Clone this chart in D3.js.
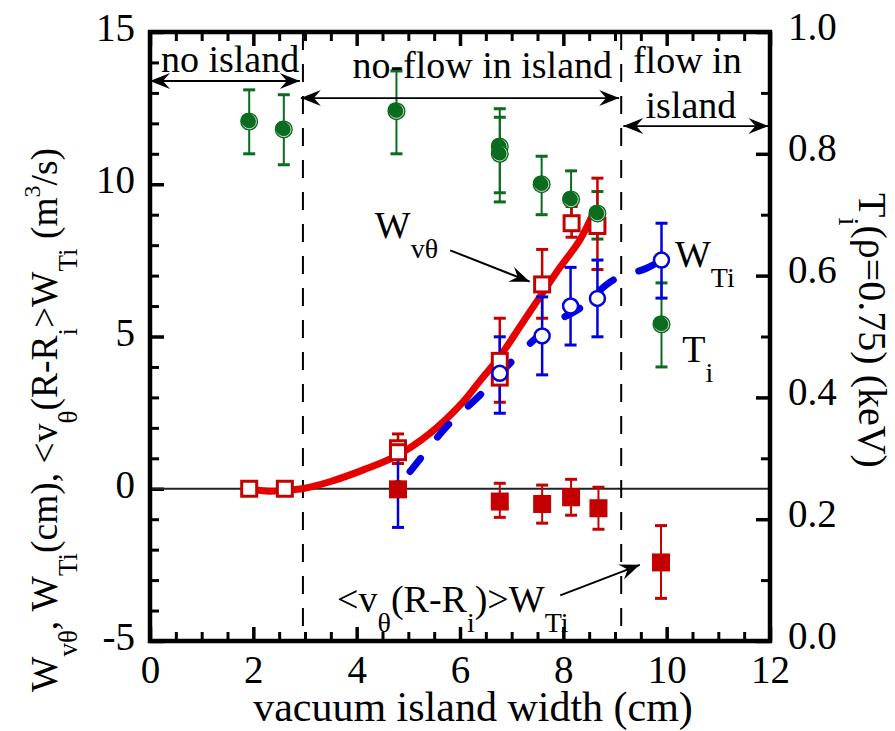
<!DOCTYPE html>
<html>
<head>
<meta charset="utf-8">
<script src="https://cdn.jsdelivr.net/npm/d3@7"></script>
<style>
  html, body { margin: 0; padding: 0; background: #fff; }
  svg { display: block; font-family: "Liberation Serif", "Times New Roman", serif; }
</style>
</head>
<body>
<div id="chart"></div>
<script>
// ---- data ----
// tick labels
const xTicks = [0, 2, 4, 6, 8, 10, 12];
const yLeftTicks = [-5, 0, 5, 10, 15];
const yRightTicks = [0.0, 0.2, 0.4, 0.6, 0.8, 1.0];

// T_i(rho=0.75) in keV (right axis), green dots
const tiX  = [1.92, 2.59, 4.77, 6.77, 6.77, 7.58, 8.15, 8.66, 9.90];
const tiY  = [0.853, 0.840, 0.870, 0.812, 0.800, 0.750, 0.725, 0.702, 0.520];
const tiLo = [0.800, 0.782, 0.800, 0.736, 0.721, 0.700, 0.680, 0.660, 0.450];
const tiHi = [0.905, 0.897, 0.936, 0.874, 0.860, 0.796, 0.772, 0.738, 0.588];

// W_vθ (cm), open red squares
const wvX  = [1.92, 2.61, 4.80, 4.80, 6.77, 6.77, 7.59, 8.16, 8.66];
const wvY  = [0.00, 0.00, 1.33, 1.20, 4.20, 3.65, 6.71, 8.72, 8.63];
const wvLo = [null, null, 0.83, null, 2.84, null, 5.60, 8.26, 7.20];
const wvHi = [null, null, 1.80, null, 5.60, null, 7.86, 9.27, 10.20];

// W_Ti (cm), open blue circles
const wtX  = [4.80, 6.77, 7.59, 8.14, 8.66, 9.90];
const wtY  = [0.00, 3.79, 5.02, 6.00, 6.25, 7.51];
const wtLo = [-1.27, 2.48, 3.74, 4.72, 4.99, 6.26];
const wtHi = [1.20, 4.99, 6.30, 7.27, 7.51, 8.72];

// <v_θ(R-R_i)>W_Ti (m^3/s), filled red squares
const fxX  = [4.80, 6.77, 7.59, 8.15, 8.68, 9.89];
const fxY  = [-0.02, -0.42, -0.50, -0.28, -0.64, -2.42];
const fxLo = [null, -0.94, -1.13, -0.87, -1.33, -3.60];
const fxHi = [null, 0.18, 0.12, 0.31, 0.05, -1.21];

// fit curves
const wvFitX = [1.92, 2.30, 2.61, 2.97, 3.48, 4.13, 4.77, 5.42, 6.06, 6.39, 6.77, 7.16, 7.55, 7.94, 8.32, 8.58];
const wvFitY = [0.00, -0.08, -0.05, 0.01, 0.23, 0.62, 1.08, 1.82, 2.85, 3.55, 4.34, 5.32, 6.31, 7.28, 8.17, 9.05];
const wtFitX = [4.80, 5.06, 5.74, 6.39, 7.16, 7.81, 8.32, 8.97, 9.61, 9.90];
const wtFitY = [0.08, 0.62, 2.04, 3.08, 4.45, 5.43, 5.93, 6.86, 7.24, 7.51];

// region boundaries (vacuum island width, cm)
const boundaries = [2.96, 9.12];

// ---- layout ----
const W = 895, H = 731;
const margin = { top: 32, right: 125, bottom: 90, left: 150 };
const width = W - margin.left - margin.right;   // 620
const height = 641 - margin.top;                 // 609

const RED_LINE = "#e60000", RED = "#c40000", BLUE = "#0000e0", GREEN = "#0b6b1e";
const FONT = "'Liberation Serif', 'Times New Roman', serif";

const svg = d3.select("#chart").append("svg")
    .attr("width", W)
    .attr("height", H);

const defs = svg.append("defs");
defs.append("marker")
    .attr("id", "arrow")
    .attr("viewBox", "-22 -10 24 20")
    .attr("markerWidth", 24).attr("markerHeight", 20)
    .attr("markerUnits", "userSpaceOnUse")
    .attr("refX", 0).attr("refY", 0)
    .attr("orient", "auto-start-reverse")
    .append("path")
    .attr("d", "M0,0 L-20,-8 L-13,0 L-20,8 Z")
    .attr("fill", "#000");

const g = svg.append("g").attr("transform", `translate(${margin.left},${margin.top})`);

const x = d3.scaleLinear().domain([0, 12]).range([0, width]);
const yL = d3.scaleLinear().domain([-5, 15]).range([height, 0]);
const yR = d3.scaleLinear().domain([0, 1]).range([height, 0]);

// ---- axes (ticks inward, frame drawn separately) ----
function styleAxis(sel, tickW) {
    sel.select(".domain").remove();
    sel.selectAll(".tick line").attr("stroke", "#000").attr("stroke-width", tickW);
    sel.selectAll(".tick text")
        .attr("fill", "#000")
        .attr("font-size", 39)
        .attr("font-family", FONT);
}

const xMinor = d3.range(0.5, 12, 0.5).filter(v => v % 2 !== 0);
const yLMinor = d3.range(-4, 15, 1).filter(v => v % 5 !== 0);
const yRMinor = [0.1, 0.3, 0.5, 0.7, 0.9];

// bottom
g.append("g").attr("transform", `translate(0,${height})`)
    .call(d3.axisBottom(x).tickValues(xMinor).tickSizeInner(-9).tickSizeOuter(0).tickFormat(""))
    .call(s => styleAxis(s, 3));
g.append("g").attr("transform", `translate(0,${height})`)
    .call(d3.axisBottom(x).tickValues(xTicks).tickSizeInner(-14).tickSizeOuter(0).tickPadding(14).tickFormat(d => String(d)))
    .call(s => styleAxis(s, 3.5));
// top (mirror, no labels)
g.append("g")
    .call(d3.axisTop(x).tickValues(xMinor).tickSizeInner(-9).tickSizeOuter(0).tickFormat(""))
    .call(s => styleAxis(s, 3));
g.append("g")
    .call(d3.axisTop(x).tickValues(xTicks).tickSizeInner(-14).tickSizeOuter(0).tickFormat(""))
    .call(s => styleAxis(s, 3.5));
// left
g.append("g")
    .call(d3.axisLeft(yL).tickValues(yLMinor).tickSizeInner(-9).tickSizeOuter(0).tickFormat(""))
    .call(s => styleAxis(s, 3));
g.append("g")
    .call(d3.axisLeft(yL).tickValues(yLeftTicks).tickSizeInner(-14).tickSizeOuter(0).tickPadding(15).tickFormat(d => String(d)))
    .call(s => styleAxis(s, 3.5))
    .call(s => s.selectAll(".tick text").attr("dy", "0.22em"));
// right
g.append("g").attr("transform", `translate(${width},0)`)
    .call(d3.axisRight(yR).tickValues(yRMinor).tickSizeInner(-9).tickSizeOuter(0).tickFormat(""))
    .call(s => styleAxis(s, 3));
g.append("g").attr("transform", `translate(${width},0)`)
    .call(d3.axisRight(yR).tickValues(yRightTicks).tickSizeInner(-14).tickSizeOuter(0).tickPadding(18).tickFormat(d3.format(".1f")))
    .call(s => styleAxis(s, 3.5))
    .call(s => s.selectAll(".tick text").attr("dy", "0.18em"));

// ---- reference lines ----
g.append("line")
    .attr("x1", 0).attr("x2", width)
    .attr("y1", yL(0)).attr("y2", yL(0))
    .attr("stroke", "#222").attr("stroke-width", 2);

g.selectAll(".boundary").data(boundaries).join("line")
    .attr("class", "boundary")
    .attr("x1", d => x(d)).attr("x2", d => x(d))
    .attr("y1", 0).attr("y2", height)
    .attr("stroke", "#000").attr("stroke-width", 2)
    .attr("stroke-dasharray", "18,14");

// ---- fit curves ----
const lineGen = d3.line().curve(d3.curveCatmullRom.alpha(0.5));
g.append("path")
    .attr("d", lineGen(wvFitX.map((v, i) => [x(v), yL(wvFitY[i])])))
    .attr("fill", "none").attr("stroke", RED_LINE).attr("stroke-width", 7)
    .attr("stroke-linejoin", "round").attr("stroke-linecap", "round");
g.append("path")
    .attr("d", lineGen(wtFitX.map((v, i) => [x(v), yL(wtFitY[i])])))
    .attr("fill", "none").attr("stroke", BLUE).attr("stroke-width", 7)
    .attr("stroke-linecap", "round")
    .attr("stroke-dasharray", "17,27").attr("stroke-dashoffset", 25);

// ---- error bars ----
function errBars(xs, lo, hi, yScale, color, lw) {
    const rows = xs.map((v, i) => ({ x: v, lo: lo[i], hi: hi[i] })).filter(d => d.lo != null);
    const eg = g.append("g").attr("stroke", color);
    eg.selectAll("line.v").data(rows).join("line")
        .attr("class", "v")
        .attr("x1", d => x(d.x)).attr("x2", d => x(d.x))
        .attr("y1", d => yScale(d.lo)).attr("y2", d => yScale(d.hi))
        .attr("stroke-width", lw);
    ["lo", "hi"].forEach(k => {
        eg.selectAll("line.c" + k).data(rows).join("line")
            .attr("class", "c" + k)
            .attr("x1", d => x(d.x) - 6).attr("x2", d => x(d.x) + 6)
            .attr("y1", d => yScale(d[k])).attr("y2", d => yScale(d[k]))
            .attr("stroke-width", 3);
    });
}
errBars(tiX, tiLo, tiHi, yR, GREEN, 2);
errBars(wvX, wvLo, wvHi, yL, RED, 2.5);
errBars(wtX, wtLo, wtHi, yL, BLUE, 2.5);
errBars(fxX, fxLo, fxHi, yL, RED, 2);

// ---- markers ----
g.selectAll(".wv").data(wvX).join("rect")
    .attr("class", "wv")
    .attr("x", d => x(d) - 7.5)
    .attr("y", (d, i) => yL(wvY[i]) - 7.5)
    .attr("width", 15).attr("height", 15)
    .attr("fill", "#fff").attr("stroke", RED).attr("stroke-width", 3);

g.selectAll(".wt").data(wtX).join("circle")
    .attr("class", "wt")
    .attr("cx", d => x(d)).attr("cy", (d, i) => yL(wtY[i]))
    .attr("r", 7.5)
    .attr("fill", "#fff").attr("stroke", BLUE).attr("stroke-width", 2.5);

const tiG = g.selectAll(".ti").data(tiX).join("g")
    .attr("class", "ti")
    .attr("transform", (d, i) => `translate(${x(d)},${yR(tiY[i])})`);
tiG.append("circle").attr("r", 9).attr("fill", GREEN);
tiG.append("circle").attr("r", 7.2).attr("fill", "none")
    .attr("stroke", "#fff").attr("stroke-opacity", 0.75).attr("stroke-width", 1);
tiG.append("circle").attr("cx", -1.6).attr("cy", -1.6).attr("r", 7).attr("fill", GREEN);

g.selectAll(".fx").data(fxX).join("rect")
    .attr("class", "fx")
    .attr("x", d => x(d) - 9)
    .attr("y", (d, i) => yL(fxY[i]) - 9)
    .attr("width", 18).attr("height", 18)
    .attr("fill", RED);

// ---- frame ----
g.append("rect")
    .attr("width", width).attr("height", height)
    .attr("fill", "none").attr("stroke", "#000").attr("stroke-width", 4.5);

// ---- text helpers ----
function rich(parent, parts, size, subSize, supSize) {
    const t = parent.append("text").attr("font-size", size).attr("font-family", FONT).attr("fill", "#000");
    let shift = 0;
    parts.forEach(p => {
        const target = p.sub ? 20 : p.sup ? -17 : 0;
        t.append("tspan")
            .attr("dy", target - shift)
            .attr("font-size", p.sub ? subSize : p.sup ? supSize : size)
            .text(p.t);
        shift = target;
    });
    return t;
}

// ---- region labels and arrows ----
const regionText = [
    { t: "no island", x: 1.55, y: 13.68 },
    { t: "no-flow in island", x: 6.43, y: 13.49 },
    { t: "flow in", x: 10.40, y: 13.65 },
    { t: "island", x: 10.47, y: 12.18 }
];
g.selectAll(".region").data(regionText).join("text")
    .attr("class", "region")
    .attr("x", d => x(d.x)).attr("y", d => yL(d.y))
    .attr("text-anchor", "middle")
    .attr("font-size", 38).attr("font-family", FONT)
    .text(d => d.t);

const regionArrows = [
    { x0: 0.0, x1: 2.90, y: 13.39 },
    { x0: 2.92, x1: 9.08, y: 12.83 },
    { x0: 9.16, x1: 11.97, y: 11.91 }
];
g.selectAll(".rarrow").data(regionArrows).join("line")
    .attr("class", "rarrow")
    .attr("x1", d => x(d.x0)).attr("x2", d => x(d.x1))
    .attr("y1", d => yL(d.y)).attr("y2", d => yL(d.y))
    .attr("stroke", "#000").attr("stroke-width", 1.8)
    .attr("marker-start", "url(#arrow)").attr("marker-end", "url(#arrow)");

// ---- series annotations ----
const annArrows = [
    { x0: 5.81, y0: 7.83, x1: 7.35, y1: 6.80 },
    { x0: 7.94, y0: -3.50, x1: 9.48, y1: -2.50 }
];
g.selectAll(".aarrow").data(annArrows).join("line")
    .attr("class", "aarrow")
    .attr("x1", d => x(d.x0)).attr("y1", d => yL(d.y0))
    .attr("x2", d => x(d.x1)).attr("y2", d => yL(d.y1))
    .attr("stroke", "#000").attr("stroke-width", 2)
    .attr("marker-end", "url(#arrow)");

rich(g, [{ t: "W" }, { t: "vθ", sub: true }], 38, 28, 24)
    .attr("x", x(4.35)).attr("y", yL(8.23));
rich(g, [{ t: "W" }, { t: "Ti", sub: true }], 38, 28, 24)
    .attr("x", x(10.16)).attr("y", yL(7.27));
rich(g, [{ t: "T" }, { t: "i", sub: true }], 38, 28, 24)
    .attr("x", x(10.30)).attr("y", yL(4.16));
rich(g, [{ t: "<v" }, { t: "θ", sub: true }, { t: "(R-R" }, { t: "i", sub: true },
         { t: ")>W" }, { t: "Ti", sub: true }], 38, 28, 24)
    .attr("x", x(3.62)).attr("y", yL(-4.06));

// ---- axis titles ----
svg.append("text")
    .attr("x", 473).attr("y", 721)
    .attr("text-anchor", "middle")
    .attr("font-size", 42).attr("font-family", FONT)
    .text("vacuum island width (cm)");

rich(svg.append("g").attr("transform", "translate(57,692) rotate(-90)"),
    [{ t: "W" }, { t: "vθ", sub: true }, { t: ", W" }, { t: "Ti", sub: true },
     { t: "(cm), <v" }, { t: "θ", sub: true }, { t: "(R-R" }, { t: "i", sub: true },
     { t: ">W" }, { t: "Ti", sub: true }, { t: " (m" }, { t: "3", sup: true }, { t: "/s)" }],
    37.5, 27, 24);

rich(svg.append("g").attr("transform", "translate(859,193) rotate(90)"),
    [{ t: "T" }, { t: "i", sub: true }, { t: "(ρ=0.75) (keV)" }],
    40, 29, 26);
</script>
</body>
</html>
